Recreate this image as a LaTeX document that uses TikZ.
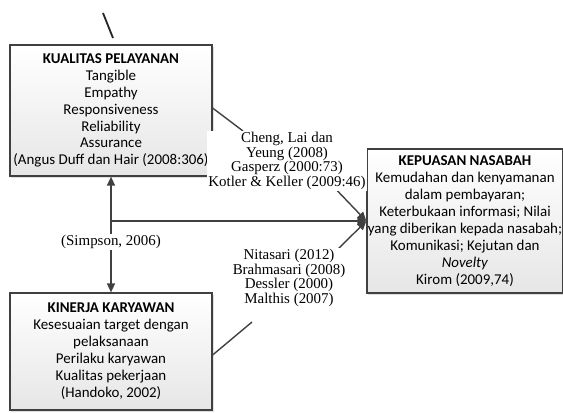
\documentclass[tikz,border=0pt]{standalone}
\usepackage{fontspec}
\setmainfont{Liberation Serif}
\newfontfamily\boxfont{Carlito}
\definecolor{ink}{HTML}{404040}
\definecolor{shade}{HTML}{E6E6E6}
\usetikzlibrary{calc, arrows.meta, shadows, backgrounds}

\begin{document}
\begin{tikzpicture}[
  x=1bp, y=-1bp,
  box/.style={draw=ink, line width=1.2bp, top color=white, bottom color=shade,
              drop shadow={opacity=0.25, shadow xshift=1.5bp, shadow yshift=-1.5bp},
              align=center, inner sep=1bp,
              font=\boxfont\fontsize{15}{17}\selectfont},
  cite/.style={fill=white, align=center, inner sep=1bp,
               font=\fontsize{15}{14.7}\selectfont},
  link/.style={draw=ink, line width=1.4bp},
  flow/.style={link, -{Triangle[length=9bp, width=8bp]}},
]
\useasboundingbox (0,0) rectangle (563,412);

\node[box, minimum width=202bp, minimum height=131bp] (kp) at (111,110.5)
  {\textbf{KUALITAS PELAYANAN}\\Tangible\\Empathy\\Responsiveness\\Reliability\\Assurance\\(Angus Duff dan Hair (2008:306)};
\node[box, minimum width=202bp, minimum height=117bp] (kk) at (111,351.5)
  {\textbf{KINERJA KARYAWAN}\\Kesesuaian target dengan\\pelaksanaan\\Perilaku karyawan\\Kualitas pekerjaan\\(Handoko, 2002)};
\node[box, minimum width=194bp, minimum height=144bp] (kn) at (465,221)
  {\textbf{KEPUASAN NASABAH}\\Kemudahan dan kenyamanan\\dalam pembayaran;\\Keterbukaan informasi; Nilai\\yang diberikan kepada nasabah;\\Komunikasi; Kejutan dan\\\textit{Novelty}\\Kirom (2009,74)};

\node[cite] (lblup) at (287,161) {Cheng, Lai dan\\Yeung (2008)\\Gasperz (2000:73)\\Kotler \& Keller (2009:46)};
\node[cite] (lbllow) at (289,278) {Nitasari (2012)\\Brahmasari (2008)\\Dessler (2000)\\Malthis (2007)};
\node[cite] (simpson) at (111,242) {(Simpson, 2006)};

\coordinate (jn) at (kp.south |- kn.west);
\coordinate (upend) at (243,131);
\coordinate (upstart) at (328,181);
\coordinate (lowend) at (252,322);
\coordinate (lowstart) at (328,259);
\coordinate (tick1) at (103,13);
\coordinate (tick2) at (113,38);

% connectors behind the labels
\begin{scope}[on background layer]
\draw[flow] (jn) -- (kp.south);
\draw[flow] (jn) -- (kk.north);
\draw[flow] (jn) -- (kn.west);
\draw[flow] (upstart) -- (kn.west);
\draw[flow] (lowstart) -- (kn.west);
\draw[link] (kp.east |- 0,108) -- (upend);
\draw[link] (kk.east |- 0,355) -- (lowend);
\end{scope}
\draw[line width=1.8bp, black!85] (tick1) -- (tick2);
\end{tikzpicture}
\end{document}
